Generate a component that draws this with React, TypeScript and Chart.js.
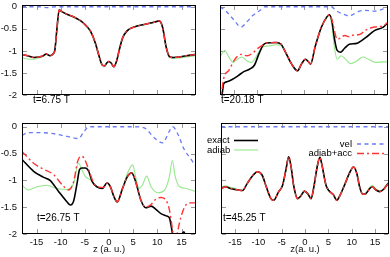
import React, { useEffect, useRef } from 'react';
import { Chart, registerables } from 'chart.js';
Chart.register(...registerables);

const FONT = '"Liberation Sans", Arial, Helvetica, sans-serif';

const xTicks = [-15, -10, -5, 0, 5, 10, 15];
const xTickLabels = ['-15', '-10', '-5', '0', '5', '10', '15'];
const yTicks = [0, -0.5, -1, -1.5, -2];
const yTickLabels = ['0', '-0.5', '-1', '-1.5', '-2'];
const seriesNames = ['exact', 'adiab', 'vel', 'adiab+acc'];
const panelTimes = ['t=6.75 T', 't=20.18 T', 't=26.75 T', 't=45.25 T'];
const xTitles = ['z (a. u.)', 'z(a. u.)'];

// ---- panel 1: t=6.75 T ----
const zTL = [-18, -16.5, -15.6, -14.5, -13.6, -13.0, -12.2, -11.6, -11.2, -10.8, -10.3, -9.9, -8.7, -7.5, -6.6, -5.7, -4.9, -3.8, -2.8, -2.0, -1.4, -0.9, -0.5, -0.1, 0.4, 1.0, 1.6, 2.1, 2.8, 3.8, 5.2, 7.3, 9.3, 10.4, 11.1, 11.8, 12.5, 13.3, 14.5, 16.0, 18];
const exactTL = [-1.08, -1.12, -1.15, -1.14, -1.11, -1.07, -1.11, -1.07, -0.98, -0.53, -0.07, -0.10, -0.17, -0.22, -0.27, -0.33, -0.41, -0.56, -0.83, -1.14, -1.32, -1.34, -1.28, -1.24, -1.27, -1.36, -1.22, -0.99, -0.71, -0.54, -0.46, -0.40, -0.35, -0.32, -0.47, -0.90, -1.13, -1.15, -1.14, -1.11, -1.08];
const adiabTL = [-1.15, -1.19, -1.19, -1.16, -1.12, -1.08, -1.11, -1.07, -0.98, -0.55, -0.09, -0.11, -0.17, -0.22, -0.27, -0.33, -0.41, -0.56, -0.83, -1.14, -1.32, -1.34, -1.28, -1.24, -1.27, -1.36, -1.22, -0.99, -0.71, -0.54, -0.46, -0.40, -0.35, -0.33, -0.48, -0.91, -1.14, -1.17, -1.16, -1.14, -1.11];
const accTL = [-1.08, -1.12, -1.15, -1.14, -1.11, -1.07, -1.11, -1.07, -0.98, -0.53, -0.07, -0.10, -0.17, -0.22, -0.27, -0.33, -0.41, -0.56, -0.83, -1.14, -1.32, -1.34, -1.28, -1.24, -1.27, -1.36, -1.22, -0.99, -0.71, -0.54, -0.46, -0.40, -0.35, -0.32, -0.47, -0.90, -1.13, -1.15, -1.14, -1.11, -1.08];
const zVelTL = [-18, -14.5, -12.8, -11.2, -9, 18];
const velTL = [0, 0, -0.02, 0, 0, 0];

// ---- panel 2: t=20.18 T ----
const zExTR = [-18, -17.5, -17.2, -16.5, -15.4, -14.1, -12.9, -11.6, -10.6, -9.7, -8.7, -8.0, -6.0, -4.9, -4.0, -2.7, -1.4, -0.5, 0.3, 0.9, 1.4, 2.4, 3.7, 4.9, 5.4, 6.0, 6.5, 7.1, 7.8, 8.7, 9.7, 11.3, 13.2, 15.1, 17.0, 18];
const exactTR = [-2.3, -1.95, -1.74, -1.70, -1.65, -1.56, -1.47, -1.41, -1.32, -1.08, -0.86, -0.82, -0.81, -0.85, -1.02, -1.29, -1.45, -1.29, -1.19, -1.24, -1.30, -0.90, -0.47, -0.23, -0.18, -0.33, -0.71, -0.99, -1.03, -0.94, -0.85, -0.83, -0.70, -0.54, -0.46, -0.36];
const zAdTR = [-18, -17.0, -16.1, -15.2, -14.4, -13.3, -12.2, -11.3, -10.3, -9.0, -7.7, -5.9, -4.9, -4.0, -2.7, -1.4, -0.5, 0.3, 0.9, 1.4, 2.4, 3.7, 4.9, 5.4, 6.0, 6.5, 7.1, 8.0, 9.0, 10.0, 11.3, 12.6, 13.8, 15.4, 17.0, 18];
const adiabTR = [-1.14, -0.99, -1.14, -1.26, -1.20, -1.14, -1.23, -1.26, -1.14, -0.92, -0.89, -0.86, -0.87, -1.02, -1.29, -1.45, -1.29, -1.19, -1.24, -1.30, -0.90, -0.47, -0.23, -0.18, -0.45, -0.91, -1.19, -1.11, -1.20, -1.29, -1.23, -1.14, -1.19, -1.26, -1.25, -1.25];
const zAccTR = [-18, -17.6, -17.2, -16.1, -14.8, -13.5, -12.2, -11.0, -10.0, -8.7, -8.0, -6.0, -4.9, -4.0, -2.7, -1.4, -0.5, 0.3, 0.9, 1.4, 2.4, 3.7, 4.9, 5.4, 6.0, 6.5, 7.1, 7.8, 8.7, 9.7, 10.6, 11.9, 13.2, 15.1, 17.0, 18];
const accTR = [-2.2, -1.9, -1.62, -1.44, -1.19, -1.08, -1.11, -1.05, -0.95, -0.86, -0.82, -0.81, -0.85, -1.02, -1.29, -1.45, -1.29, -1.19, -1.24, -1.30, -0.90, -0.47, -0.23, -0.18, -0.30, -0.53, -0.74, -0.71, -0.65, -0.68, -0.64, -0.63, -0.53, -0.46, -0.43, -0.35];
const zVelTR = [-18, -16.7, -15.1, -13.5, -12.2, -11.0, -9.4, -8.4, 5.9, 6.8, 8.7, 9.7, 10.6, 11.9, 13.2, 15.1, 17.0, 18];
const velTR = [0, -0.10, -0.29, -0.46, -0.34, -0.20, -0.08, 0, 0, -0.08, -0.18, -0.21, -0.17, -0.10, -0.08, -0.10, -0.05, -0.01];

// ---- panel 3: t=26.75 T ----
const zExBL = [-18, -15.6, -13.6, -12.2, -10.4, -8.7, -8.0, -7.3, -6.6, -6.1, -5.6, -4.9, -4.2, -3.5, -2.5, -1.4, -0.4, 0.3, 1.0, 1.7, 2.8, 3.8, 4.7, 5.5, 6.6, 7.6, 8.7, 9.7, 10.75, 12.1, 12.5, 13.0, 13.5, 14.5, 15.5, 16.3, 18];
const exactBL = [-0.61, -0.83, -0.94, -1.00, -1.21, -1.40, -1.46, -1.38, -1.05, -0.80, -0.77, -0.77, -0.83, -1.02, -1.12, -1.15, -1.05, -1.12, -1.30, -1.40, -1.15, -0.93, -0.86, -1.02, -1.37, -1.51, -1.48, -1.54, -1.62, -1.67, -1.70, -1.92, -2.2, -2.1, -1.96, -2.2, -2.5];
const zAdBL = [-18, -16.7, -14.9, -12.9, -10.8, -8.7, -7.3, -6.3, -5.6, -4.9, -3.8, -2.5, -1.4, -0.4, 0.3, 1.0, 1.7, 2.8, 3.8, 4.9, 5.5, 6.2, 6.9, 7.8, 8.7, 10.1, 11.5, 12.5, 13.1, 13.7, 14.6, 16.0, 18];
const adiabBL = [-1.09, -1.18, -1.12, -1.09, -1.15, -1.17, -1.05, -0.68, -0.80, -0.93, -0.99, -1.12, -1.15, -1.05, -1.12, -1.30, -1.40, -1.15, -0.87, -0.71, -0.93, -1.15, -1.09, -0.92, -1.12, -1.23, -1.18, -0.93, -0.63, -0.93, -1.12, -1.15, -1.21];
const zAccBL = [-18, -15.6, -13.6, -11.5, -9.7, -8.35, -7.3, -6.5, -5.8, -5.2, -4.2, -3.15, -2.2, -1.2, -0.4, 0.3, 1.0, 1.7, 2.8, 3.8, 4.7, 5.5, 6.6, 7.6, 8.7, 9.7, 10.75, 11.8, 12.5, 13.2, 13.6, 14.1, 14.9, 16.0, 17.0, 18];
const accBL = [-0.46, -0.68, -0.79, -0.89, -1.08, -1.18, -1.02, -0.65, -0.55, -0.58, -0.80, -1.05, -1.12, -1.13, -1.05, -1.12, -1.30, -1.40, -1.15, -0.93, -0.86, -1.02, -1.37, -1.50, -1.45, -1.35, -1.32, -1.37, -1.55, -1.96, -2.25, -2.0, -1.68, -1.45, -1.42, -1.42];
const zVelBL = [-18, -16.7, -14.9, -12.2, -8.7, -6.3, -5.3, -4.2, 5.3, 7.3, 9.4, 11.1, 12.5, 13.2, 14.2, 15.6, 17.0, 18];
const velBL = [-0.16, -0.11, -0.11, -0.12, -0.18, -0.22, -0.11, 0, 0, -0.02, -0.21, -0.30, -0.08, 0, -0.13, -0.43, -0.61, -0.74];

// ---- panel 4: t=45.25 T ----
const zBR = [-18, -17.0, -16.0, -15.0, -14.3, -13.4, -12.4, -11.1, -10.2, -9.2, -8.3, -7.3, -6.7, -5.7, -4.8, -4.1, -3.5, -3.0, -2.4, -1.6, -1.0, -0.1, 0.6, 1.3, 1.9, 2.6, 3.2, 3.6, 4.5, 5.1, 6.1, 6.8, 7.6, 8.6, 9.5, 10.4, 11.1, 11.7, 12.4, 13.0, 13.9, 14.4, 15.2, 16.0, 16.8, 17.7, 18];
const exactBR = [-1.15, -1.12, -1.15, -1.17, -1.18, -1.19, -1.06, -0.90, -0.84, -0.90, -1.12, -1.34, -1.37, -1.22, -1.09, -0.81, -0.56, -0.74, -1.11, -1.34, -1.30, -1.20, -1.25, -1.34, -1.12, -0.75, -0.57, -0.70, -1.09, -1.19, -1.27, -1.37, -1.26, -1.06, -0.87, -0.75, -0.87, -1.12, -1.26, -1.25, -1.15, -1.12, -1.18, -1.21, -1.17, -1.07, -1.04];
const adiabBR = [-1.13, -1.10, -1.13, -1.15, -1.17, -1.19, -1.06, -0.90, -0.84, -0.90, -1.12, -1.34, -1.37, -1.22, -1.09, -0.81, -0.56, -0.74, -1.11, -1.34, -1.30, -1.20, -1.25, -1.34, -1.12, -0.75, -0.57, -0.70, -1.09, -1.19, -1.27, -1.37, -1.26, -1.06, -0.87, -0.75, -0.87, -1.12, -1.26, -1.24, -1.13, -1.09, -1.16, -1.20, -1.16, -1.06, -1.03];
const accBR = [-1.15, -1.12, -1.15, -1.17, -1.18, -1.19, -1.06, -0.90, -0.84, -0.90, -1.12, -1.34, -1.37, -1.22, -1.09, -0.81, -0.56, -0.74, -1.11, -1.34, -1.30, -1.20, -1.25, -1.34, -1.12, -0.75, -0.57, -0.70, -1.09, -1.19, -1.27, -1.37, -1.26, -1.06, -0.87, -0.75, -0.87, -1.12, -1.26, -1.25, -1.15, -1.12, -1.18, -1.21, -1.17, -1.07, -1.04];
const zVelBR = [-18, 18];
const velBR = [0, 0];

const COLORS = { exact: '#000000', adiab: '#95e88c', vel: '#6a7cf2', acc: '#ff3434' };

const pts = (z: number[], v: number[]) => z.map((x, i) => ({ x, y: v[i] }));

type Panel = {
  pad: { left: number; top: number; right: number; bottom: number };
  showX: boolean;
  showY: boolean;
  ymax: number;
  label: string;
  lx: number;
  ly: number;
  xTitle?: string;
  legend?: boolean;
  series: { z: number[]; v: number[] }[]; // exact, adiab, vel, acc
};

const panels: Panel[] = [
  {
    pad: { left: 0, top: 5, right: 194, bottom: 139 }, showX: false, showY: true, ymax: 0.04,
    label: panelTimes[0], lx: 33, ly: 100,
    series: [{ z: zTL, v: exactTL }, { z: zTL, v: adiabTL }, { z: zVelTL, v: velTL }, { z: zTL, v: accTL }],
  },
  {
    pad: { left: 198, top: 5, right: 2, bottom: 139 }, showX: false, showY: false, ymax: 0.04,
    label: panelTimes[1], lx: 221, ly: 100,
    series: [{ z: zExTR, v: exactTR }, { z: zAdTR, v: adiabTR }, { z: zVelTR, v: velTR }, { z: zAccTR, v: accTR }],
  },
  {
    pad: { left: 0, top: 123, right: 194, bottom: 0 }, showX: true, showY: true, ymax: 0.07,
    label: panelTimes[2], lx: 37, ly: 218, xTitle: xTitles[0],
    series: [{ z: zExBL, v: exactBL }, { z: zAdBL, v: adiabBL }, { z: zVelBL, v: velBL }, { z: zAccBL, v: accBL }],
  },
  {
    pad: { left: 199, top: 123, right: 1, bottom: 0 }, showX: true, showY: false, ymax: 0.07,
    label: panelTimes[3], lx: 223, ly: 218, xTitle: xTitles[1], legend: true,
    series: [{ z: zBR, v: exactBR }, { z: zBR, v: adiabBR }, { z: zVelBR, v: velBR }, { z: zBR, v: accBR }],
  },
];

const STYLES = [
  { color: COLORS.exact, width: 1.6, dash: [] as number[], order: 3 },
  { color: COLORS.adiab, width: 1.1, dash: [] as number[], order: 4 },
  { color: COLORS.vel, width: 1.3, dash: [4, 3.5], order: 2 },
  { color: COLORS.acc, width: 1.4, dash: [7, 3, 2, 3], order: 1 },
];

function makePlugin(p: Panel) {
  const TL = 4;
  return {
    id: 'decor',
    beforeDatasetsDraw(chart: any) {
      const { ctx, chartArea: a, scales } = chart;
      ctx.save();
      ctx.lineWidth = 1;
      ctx.strokeStyle = '#9a9a9a';
      ctx.beginPath();
      for (const v of xTicks) {
        const x = Math.round(scales.x.getPixelForValue(v)) + 0.5;
        ctx.moveTo(x, a.bottom - 1); ctx.lineTo(x, a.bottom - 1 - TL);
        ctx.moveTo(x, a.top + 1); ctx.lineTo(x, a.top + 1 + TL);
      }
      for (const v of yTicks) {
        const y = Math.round(scales.y.getPixelForValue(v)) + 0.5;
        ctx.moveTo(a.left + 1, y); ctx.lineTo(a.left + 1 + TL, y);
        ctx.moveTo(a.right - 1, y); ctx.lineTo(a.right - 1 - TL, y);
      }
      ctx.stroke();
      ctx.restore();
    },
    afterDatasetsDraw(chart: any) {
      const { ctx, chartArea: a } = chart;
      ctx.save();
      ctx.lineWidth = 1;
      ctx.strokeStyle = '#000';
      ctx.setLineDash([]);
      ctx.strokeRect(a.left + 0.5, a.top + 0.5, a.right - a.left - 1, a.bottom - a.top - 1);
      ctx.fillStyle = '#000';
      ctx.textBaseline = 'middle';
      ctx.textAlign = 'left';
      ctx.font = `10px ${FONT}`;
      ctx.fillText(p.label, p.lx, p.ly);
      if (p.legend) {
        ctx.font = `9.5px ${FONT}`;
        const items = [
          { name: seriesNames[0], s: STYLES[0], tx: 207, ty: 140.5, align: 'left', x0: 234, x1: 258 },
          { name: seriesNames[1], s: STYLES[1], tx: 207, ty: 150, align: 'left', x0: 234, x1: 258 },
          { name: seriesNames[2], s: STYLES[2], tx: 352, ty: 144, align: 'right', x0: 357, x1: 384 },
          { name: seriesNames[3], s: STYLES[3], tx: 352, ty: 153.5, align: 'right', x0: 357, x1: 384 },
        ];
        for (const it of items) {
          ctx.textAlign = it.align;
          ctx.fillStyle = '#000';
          ctx.fillText(it.name, it.tx, it.ty);
          ctx.beginPath();
          ctx.strokeStyle = it.s.color;
          ctx.lineWidth = it.s.width;
          ctx.setLineDash(it.s.dash);
          ctx.moveTo(it.x0, it.ty);
          ctx.lineTo(it.x1, it.ty);
          ctx.stroke();
        }
      }
      ctx.restore();
    },
  };
}

function makeConfig(p: Panel): any {
  const tickFont = { family: FONT, size: 9.5 };
  return {
    type: 'line',
    data: {
      datasets: p.series.map((s, i) => ({
        label: seriesNames[i],
        data: pts(s.z, s.v),
        borderColor: STYLES[i].color,
        borderWidth: STYLES[i].width,
        borderDash: STYLES[i].dash,
        order: STYLES[i].order,
        pointRadius: 0,
        fill: false,
        cubicInterpolationMode: 'monotone',
      })),
    },
    options: {
      animation: false,
      responsive: false,
      devicePixelRatio: 1,
      events: [],
      layout: { padding: p.pad, autoPadding: false },
      plugins: { legend: { display: false }, tooltip: { enabled: false } },
      scales: {
        x: {
          type: 'linear',
          min: -18,
          max: 18,
          display: p.showX,
          grid: { display: false, drawTicks: false },
          border: { display: false },
          afterBuildTicks: (s: any) => { s.ticks = xTicks.map((v) => ({ value: v })); },
          afterFit: (s: any) => { s.height = 23; s.paddingLeft = 0; s.paddingRight = 0; },
          ticks: {
            font: tickFont, color: '#111', padding: 3, maxRotation: 0, autoSkip: false,
            callback: (_v: any, i: number) => xTickLabels[i],
          },
          title: {
            display: !!p.xTitle, text: p.xTitle || '', font: tickFont, color: '#111',
            padding: { top: 0, bottom: 2 },
          },
        },
        y: {
          type: 'linear',
          min: -2,
          max: p.ymax,
          display: p.showY,
          grid: { display: false, drawTicks: false },
          border: { display: false },
          afterBuildTicks: (s: any) => { s.ticks = yTicks.map((v) => ({ value: v })); },
          afterFit: (s: any) => { s.width = 22; s.paddingTop = 0; s.paddingBottom = 0; },
          ticks: {
            font: tickFont, color: '#111', padding: 5, autoSkip: false,
            callback: (_v: any, i: number) => yTickLabels[i],
          },
        },
      },
    },
    plugins: [makePlugin(p)],
  };
}

export default function App() {
  const refs = useRef<(HTMLCanvasElement | null)[]>([]);
  useEffect(() => {
    const charts = panels.map((p, i) => new Chart(refs.current[i] as HTMLCanvasElement, makeConfig(p)));
    return () => charts.forEach((c) => c.destroy());
  }, []);
  return (
    <div style={{ position: 'fixed', left: 0, top: 0, width: 390, height: 257, background: '#fff' }}>
      {panels.map((_p, i) => (
        <canvas
          key={i}
          ref={(el) => { refs.current[i] = el; }}
          width={390}
          height={257}
          style={{ position: 'absolute', left: 0, top: 0, width: 390, height: 257 }}
        />
      ))}
    </div>
  );
}
